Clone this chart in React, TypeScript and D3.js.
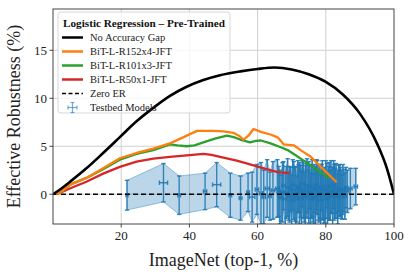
import React from "react";
import * as d3 from "d3";

const xTicks = [20, 40, 60, 80, 100];
const yTicks = [0, 5, 10, 15];

const noGapX = [0, 2.5, 5, 9.8, 14.7, 19.6, 24.5, 29.4, 34.3, 39.2, 44.1, 49, 55, 60, 65, 70, 75, 80, 85, 90, 95, 98, 100];
const noGapY = [0, 0.6, 1.3, 2.7, 4.3, 5.95, 7.6, 9.0, 10.25, 11.2, 11.9, 12.4, 12.8, 13.05, 13.2, 13.0, 12.5, 11.7, 10.4, 8.4, 5.3, 2.6, 0];

const r152X = [1, 3, 5, 9.8, 14.7, 19.6, 24.5, 29.4, 34.3, 38, 42.2, 47, 50, 52.9, 54.5, 55.9, 57.3, 58.8, 61, 64, 66, 67.6, 70.6, 72.6, 75.6, 79, 81, 83.2];
const r152Y = [0, 0.4, 1.0, 1.7, 2.7, 3.75, 4.3, 4.75, 5.3, 5.9, 6.6, 6.6, 6.55, 6.4, 6.1, 5.7, 6.1, 6.8, 6.5, 6.2, 5.9, 5.2, 5.1, 4.6, 3.9, 2.7, 2.0, 1.25];

const r101X = [1, 3, 5, 9.8, 14.7, 19.6, 24.5, 29.4, 34.3, 36.5, 39.2, 41.5, 44.1, 47.5, 51, 53, 54.9, 57.8, 59.5, 61, 63.8, 66.8, 68.8, 70.6, 73.5, 77.6, 80.9];
const r101Y = [0, 0.4, 1.0, 1.7, 2.6, 3.6, 4.2, 4.6, 5.2, 5.1, 5.0, 5.1, 5.4, 5.8, 6.1, 5.95, 5.7, 5.4, 5.55, 5.6, 5.3, 4.9, 4.6, 4.2, 3.5, 2.5, 1.7];

const r50X = [1, 3, 4.9, 9.8, 14.7, 19.6, 24.5, 29.4, 34.3, 39.2, 44.1, 46.5, 49, 53.9, 58.8, 61.8, 65.9, 69.4];
const r50Y = [0, 0.3, 0.6, 1.3, 2.15, 2.85, 3.4, 3.7, 3.9, 4.06, 4.2, 4.1, 3.9, 3.5, 3.0, 2.7, 2.3, 2.2];

// testbed models
const testX = [21.7, 32.4, 37.0, 44.6, 48.0, 52.0, 55.0, 57.2, 58.4, 59.8, 61.0, 61.8, 62.8, 63.6, 64.5, 65.8, 66.5, 67.3, 68.1, 68.8, 69.4, 70.0, 70.6, 71.2, 71.8, 72.3, 72.9, 73.4, 74.0, 74.5, 75.0, 75.5, 76.0, 76.5, 77.0, 77.5, 78.0, 78.5, 79.0, 79.5, 80.0, 80.5, 81.0, 81.5, 82.0, 82.5, 83.0, 83.5, 84.0, 84.5, 85.0, 85.6, 86.3, 87.2, 88.8,
  66.2, 66.9, 67.6, 68.4, 69.1, 69.7, 70.3, 70.9, 71.5, 72.0, 72.6, 73.1, 73.7, 74.2, 74.8, 75.3, 75.8, 76.3, 76.8, 77.3, 77.8, 78.3, 78.8, 79.3, 79.8, 80.3, 80.8, 81.3, 81.8, 82.3, 82.8, 83.3, 83.8, 84.3, 84.8, 85.3, 85.9];
const testY = [-0.1, 1.2, -0.1, 0.3, 1.0, -0.1, -0.4, 0.2, -0.3, 0.5, 0.1, -0.3, 0.6, -0.2, 0.4, 0.6, -0.3, 0.2, -0.5, 0.7, 0.0, -0.6, 0.4, -0.2, 0.8, 0.1, -0.4, 0.5, -0.1, 0.9, 0.2, -0.5, 0.6, 0.0, -0.3, 0.7, 0.1, -0.6, 0.4, -0.1, 0.5, -0.4, 0.3, 0.8, -0.2, 0.2, 0.6, -0.3, 0.4, 0.0, 0.5, -0.2, 0.3, 0.6, 0.8,
  0.3, -0.4, 0.9, 0.2, -0.2, 0.5, 1.0, 0.0, -0.5, 0.6, 0.3, 1.1, -0.3, 0.4, 0.0, 0.8, 0.2, -0.4, 0.5, 1.0, -0.2, 0.3, 0.7, 0.0, -0.5, 0.9, 0.2, -0.1, 0.4, 1.0, 0.1, -0.2, 0.6, 0.3, -0.3, 0.4, 0.7];
const testXErr = [0.3, 1.2, 0.4, 0.5, 1.2, 0.4, 0.4, 0.4, 0.8, 0.5, 0.5, 0.5, 0.6, 0.4, 0.5, 0.5, 0.4, 0.5, 0.5, 0.6, 0.5, 0.5, 0.6, 0.5, 0.5, 0.6, 0.5, 0.5, 0.6, 0.5, 0.5, 0.6, 0.5, 0.5, 0.5, 0.6, 0.5, 0.5, 0.5, 0.6, 0.5, 0.5, 0.6, 0.5, 0.5, 0.6, 0.5, 0.5, 0.6, 0.5, 0.5, 0.5, 0.5, 0.5, 0.5,
  0.5, 0.4, 0.5, 0.6, 0.5, 0.4, 0.5, 0.6, 0.5, 0.4, 0.5, 0.6, 0.5, 0.5, 0.4, 0.6, 0.5, 0.5, 0.4, 0.5, 0.6, 0.5, 0.4, 0.5, 0.6, 0.5, 0.5, 0.4, 0.5, 0.6, 0.5, 0.4, 0.5, 0.5, 0.6, 0.5, 0.4];
const testYErr = [1.55, 2.0, 2.0, 1.9, 2.3, 2.3, 2.3, 2.0, 2.6, 2.6, 3.2, 2.8, 3.0, 2.5, 3.0, 3.0, 2.8, 3.1, 2.7, 3.0, 2.9, 2.6, 3.0, 3.1, 2.7, 3.2, 2.8, 3.0, 3.1, 2.8, 3.2, 2.7, 3.0, 3.1, 2.9, 2.8, 3.0, 2.6, 3.1, 2.9, 3.0, 2.8, 3.0, 2.7, 3.0, 2.9, 2.6, 2.8, 2.7, 2.5, 2.6, 2.4, 2.2, 2.1, 1.9,
  2.6, 2.4, 2.5, 2.7, 2.5, 2.3, 2.6, 2.8, 2.4, 2.5, 2.7, 2.4, 2.6, 2.8, 2.5, 2.3, 2.7, 2.5, 2.4, 2.6, 2.5, 2.8, 2.4, 2.6, 2.5, 2.3, 2.7, 2.6, 2.4, 2.5, 2.6, 2.3, 2.4, 2.5, 2.3, 2.2, 2.1];

const W = 415, H = 277;
const L = 53, R = 394, T = 9, B = 224;
const FONT = "'Liberation Serif', 'Times New Roman', serif";
const BLUE = "#1f77b4";

export default function App() {
  const x = d3.scaleLinear().domain([0, 100]).range([L, R]);
  const y = d3.scaleLinear().domain([-3.1, 19.3]).range([B, T]);
  const line = (xs: number[], ys: number[]) =>
    d3.line<number>().x((_, i) => x(xs[i])).y((_, i) => y(ys[i]))(xs) || "";

  const idx = testX.map((_, i) => i).sort((a, b) => testX[a] - testX[b]);
  const band = d3.area<number>()
    .x((i) => x(testX[i]))
    .y0((i) => y(testY[i] - testYErr[i]))
    .y1((i) => y(testY[i] + testYErr[i]))(idx) || "";

  const cap = 2.2;
  const legendRows = [
    { label: "No Accuracy Gap", color: "#000", dash: "", w: 2.5 },
    { label: "BiT-L-R152x4-JFT", color: "#ff7f0e", dash: "", w: 2.5 },
    { label: "BiT-L-R101x3-JFT", color: "#2ca02c", dash: "", w: 2.5 },
    { label: "BiT-L-R50x1-JFT", color: "#d62728", dash: "", w: 2.5 },
    { label: "Zero ER", color: "#000", dash: "4,2.5", w: 1.5 },
  ];

  return (
    <svg width={W} height={H} style={{ position: "absolute", left: 0, top: 0, background: "#fff" }} fontFamily={FONT}>
      <defs>
        <clipPath id="plot"><rect x={L} y={T} width={R - L} height={B - T} /></clipPath>
      </defs>
      {xTicks.filter((t) => t < 100).map((t) => (
        <line key={"gx" + t} x1={x(t)} x2={x(t)} y1={T} y2={B} stroke="#d0d0d0" strokeWidth={1} />
      ))}
      {yTicks.map((t) => (
        <line key={"gy" + t} x1={L} x2={R} y1={y(t)} y2={y(t)} stroke="#d0d0d0" strokeWidth={1} />
      ))}
      <rect x={58} y={12} width={172} height={101} rx={3} fill="#fff" fillOpacity={0.8} stroke="#d8d8d8" />
      <g clipPath="url(#plot)">
        <path d={band} fill={BLUE} fillOpacity={0.3} stroke={BLUE} strokeOpacity={0.4} strokeWidth={1} />
        {testX.map((tx, i) => {
          const cx = x(tx), cy = y(testY[i]);
          const y0 = y(testY[i] - testYErr[i]), y1 = y(testY[i] + testYErr[i]);
          const x0 = x(tx - testXErr[i]), x1 = x(tx + testXErr[i]);
          return (
            <g key={"t" + i} stroke={BLUE} strokeOpacity={0.88} strokeWidth={1.4}>
              <line x1={cx} x2={cx} y1={y0} y2={y1} />
              <line x1={cx - cap} x2={cx + cap} y1={y0} y2={y0} />
              <line x1={cx - cap} x2={cx + cap} y1={y1} y2={y1} />
              <line x1={x0} x2={x1} y1={cy} y2={cy} />
              <line x1={x0} x2={x0} y1={cy - cap} y2={cy + cap} />
              <line x1={x1} x2={x1} y1={cy - cap} y2={cy + cap} />
            </g>
          );
        })}
        <line x1={L} x2={R} y1={y(0)} y2={y(0)} stroke="#000" strokeWidth={1.6} strokeDasharray="5,3" />
        <path d={line(r50X, r50Y)} fill="none" stroke="#d62728" strokeWidth={2.3} strokeLinejoin="round" />
        <path d={line(r101X, r101Y)} fill="none" stroke="#2ca02c" strokeWidth={2.3} strokeLinejoin="round" />
        <path d={line(r152X, r152Y)} fill="none" stroke="#ff7f0e" strokeWidth={2.3} strokeLinejoin="round" />
        <path d={d3.line<number>().x((_, i) => x(noGapX[i])).y((_, i) => y(noGapY[i])).curve(d3.curveMonotoneX)(noGapX) || ""} fill="none" stroke="#000" strokeWidth={2.6} />
      </g>
      <rect x={L} y={T} width={R - L} height={B - T} fill="none" stroke="#444" strokeWidth={1} />
      {xTicks.map((t) => (
        <g key={"xt" + t}>
          <line x1={x(t)} x2={x(t)} y1={B} y2={B + 3.5} stroke="#444" />
          <text x={x(t)} y={B + 16} fontSize={13} textAnchor="middle" fill="#222">{t}</text>
        </g>
      ))}
      {yTicks.map((t) => (
        <g key={"yt" + t}>
          <line x1={L - 3.5} x2={L} y1={y(t)} y2={y(t)} stroke="#444" />
          <text x={L - 6} y={y(t) + 4.5} fontSize={13} textAnchor="end" fill="#222">{t}</text>
        </g>
      ))}
      <text x={(L + R) / 2} y={266} fontSize={18} textAnchor="middle" fill="#222">ImageNet (top-1, %)</text>
      <text transform={`translate(20,${(T + B) / 2}) rotate(-90)`} fontSize={18} textAnchor="middle" fill="#222">Effective Robustness (%)</text>
      <g>
        <text x={144} y={27} fontSize={11.2} fontWeight="bold" textAnchor="middle" fill="#111">Logistic Regression – Pre-Trained</text>
        {legendRows.map((r, i) => (
          <g key={r.label}>
            <line x1={62} x2={83} y1={37.5 + i * 14} y2={37.5 + i * 14} stroke={r.color} strokeWidth={r.w} strokeDasharray={r.dash} />
            <text x={90} y={41 + i * 14} fontSize={10.5} fill="#222">{r.label}</text>
          </g>
        ))}
        <g stroke={BLUE} strokeOpacity={0.6} strokeWidth={1.2}>
          <line x1={72.5} x2={72.5} y1={102.5} y2={112.5} />
          <line x1={70.5} x2={74.5} y1={102.5} y2={102.5} />
          <line x1={70.5} x2={74.5} y1={112.5} y2={112.5} />
          <line x1={68} x2={77} y1={107.5} y2={107.5} />
          <line x1={68} x2={68} y1={105.5} y2={109.5} />
          <line x1={77} x2={77} y1={105.5} y2={109.5} />
        </g>
        <text x={90} y={111} fontSize={10.5} fill="#222">Testbed Models</text>
      </g>
    </svg>
  );
}
